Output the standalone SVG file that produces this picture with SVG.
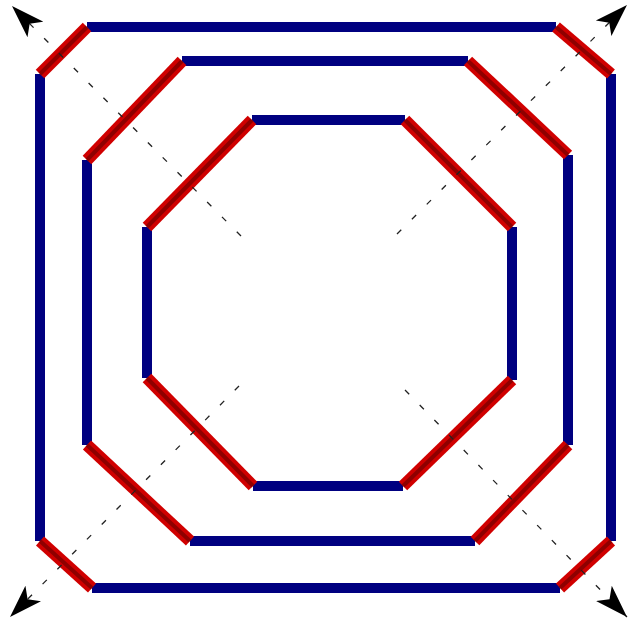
<svg xmlns="http://www.w3.org/2000/svg" width="629" height="622" viewBox="0 0 629 622">
<style>
.b{stroke:#000080;stroke-width:10;stroke-linecap:butt;fill:none}
.r{stroke:#d00000;stroke-width:12;stroke-linecap:butt;fill:none}
.rc{stroke:#7a0000;stroke-width:4;stroke-linecap:butt;fill:none;opacity:0.75}
.d{stroke:#222;stroke-width:1.3;stroke-dasharray:6 15;fill:none}
</style>
<defs>
<marker id="ah" viewBox="-33 -12 34 24" refX="0" refY="0" markerWidth="34" markerHeight="24" markerUnits="userSpaceOnUse" orient="auto">
<path d="M0,0 L-33,-11 L-25,0 L-33,11 Z" fill="#000"/>
</marker>
</defs>
<rect width="629" height="622" fill="#fff"/>
<g id="outer">
<line class="b" x1="87" y1="27" x2="556" y2="27"/>
<line class="b" x1="611" y1="74" x2="611" y2="541"/>
<line class="b" x1="92" y1="588" x2="560" y2="588"/>
<line class="b" x1="40" y1="74" x2="40" y2="541"/>
<line class="r" x1="87" y1="27" x2="40" y2="74"/>
<line class="r" x1="556" y1="27" x2="611" y2="74"/>
<line class="r" x1="611" y1="541" x2="560" y2="588"/>
<line class="r" x1="40" y1="541" x2="92" y2="588"/>
<line class="rc" x1="87" y1="27" x2="40" y2="74"/>
<line class="rc" x1="556" y1="27" x2="611" y2="74"/>
<line class="rc" x1="611" y1="541" x2="560" y2="588"/>
<line class="rc" x1="40" y1="541" x2="92" y2="588"/>
</g>
<g id="middle">
<line class="b" x1="182" y1="61" x2="468" y2="61"/>
<line class="b" x1="568" y1="155" x2="568" y2="445"/>
<line class="b" x1="190" y1="541" x2="475" y2="541"/>
<line class="b" x1="87" y1="160" x2="87" y2="445"/>
<line class="r" x1="182" y1="61" x2="87" y2="160"/>
<line class="r" x1="468" y1="61" x2="568" y2="155"/>
<line class="r" x1="568" y1="445" x2="475" y2="541"/>
<line class="r" x1="87" y1="445" x2="190" y2="541"/>
<line class="rc" x1="182" y1="61" x2="87" y2="160"/>
<line class="rc" x1="468" y1="61" x2="568" y2="155"/>
<line class="rc" x1="568" y1="445" x2="475" y2="541"/>
<line class="rc" x1="87" y1="445" x2="190" y2="541"/>
</g>
<g id="inner">
<line class="b" x1="252" y1="120" x2="405" y2="120"/>
<line class="b" x1="512" y1="227" x2="512" y2="380"/>
<line class="b" x1="253" y1="486" x2="403" y2="486"/>
<line class="b" x1="147" y1="227" x2="147" y2="378"/>
<line class="r" x1="252" y1="120" x2="147" y2="227"/>
<line class="r" x1="405" y1="120" x2="512" y2="227"/>
<line class="r" x1="512" y1="380" x2="403" y2="486"/>
<line class="r" x1="147" y1="378" x2="253" y2="486"/>
<line class="rc" x1="252" y1="120" x2="147" y2="227"/>
<line class="rc" x1="405" y1="120" x2="512" y2="227"/>
<line class="rc" x1="512" y1="380" x2="403" y2="486"/>
<line class="rc" x1="147" y1="378" x2="253" y2="486"/>
</g>
<g id="connectors">
<line class="d" x1="241" y1="236" x2="12" y2="6" marker-end="url(#ah)"/>
<line class="d" x1="397" y1="234" x2="627" y2="5" marker-end="url(#ah)"/>
<line class="d" x1="239" y1="386" x2="10" y2="617" marker-end="url(#ah)"/>
<line class="d" x1="405" y1="390" x2="627" y2="617" marker-end="url(#ah)"/>
</g>
</svg>
